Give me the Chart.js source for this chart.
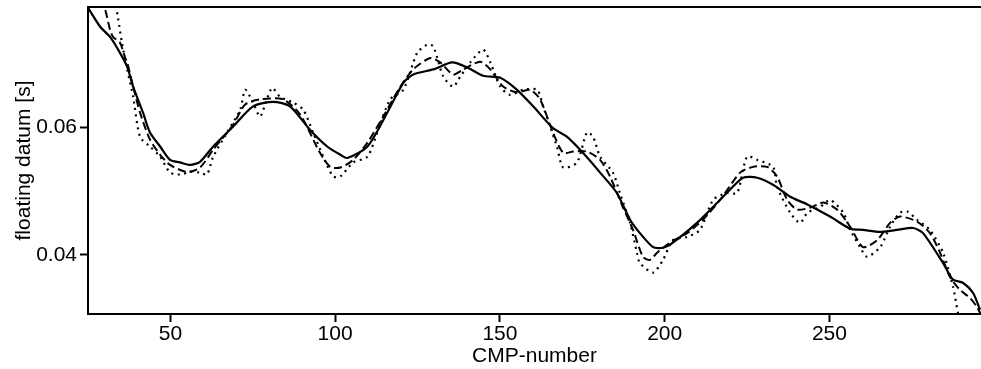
<!DOCTYPE html>
<html>
<head>
<meta charset="utf-8">
<script src="https://cdn.jsdelivr.net/npm/chart.js@4.4.0/dist/chart.umd.min.js"></script>
<style>
    html, body { margin: 0; padding: 0; background: #fff; overflow: hidden; }
    #wrap { width: 981px; height: 369px; }
</style>
</head>
<body>
<div id="wrap"><canvas id="chart1"></canvas></div>
<script>
// AXIS TICKS
var xTicks = [50, 100, 150, 200, 250];
var yTicks = [0.04, 0.06];

// SOLID CURVE
var solidX = [25.0, 28.7, 31.7, 34.7, 36.9, 38.7, 41.7, 43.8, 46.9, 49.9, 52.9, 56.0, 59.0, 63.0, 69.0, 75.1, 81.2, 86.3, 92.4, 97.6,
    101.6, 103.7, 109.8, 115.8, 120.7, 123.7, 129.8, 135.5, 140.1, 144.9, 150.1, 155.2, 160.1, 166.1, 170.4, 175.2, 180.4, 185.5, 189.5, 192.5,
    196.5, 199.5, 202.5, 209.8, 214.7, 219.8, 223.8, 228.1, 232.9, 238.1, 243.3, 250.2, 256.3, 260.2, 265.4, 270.5, 275.4, 278.4, 284.5, 287.5,
    290.5, 293.6, 295.7];
var solidY = [0.0788, 0.0758, 0.0742, 0.0717, 0.0695, 0.0664, 0.0623, 0.0592, 0.0570, 0.0549, 0.0545, 0.0541, 0.0546, 0.0570, 0.0601, 0.0633, 0.0640, 0.0633, 0.0596, 0.0570,
    0.0557, 0.0552, 0.0570, 0.0623, 0.0670, 0.0683, 0.0691, 0.0702, 0.0694, 0.0681, 0.0678, 0.0659, 0.0633, 0.0599, 0.0585, 0.0560, 0.0529, 0.0497, 0.0455, 0.0434,
    0.0412, 0.0411, 0.0419, 0.0450, 0.0475, 0.0502, 0.0521, 0.0521, 0.0510, 0.0491, 0.0479, 0.0460, 0.0441, 0.0439, 0.0436, 0.0439, 0.0442, 0.0434, 0.0387, 0.0361,
    0.0356, 0.0340, 0.0314];

// DASHED CURVE
var dashedX = [28.7, 30.2, 31.7, 32.6, 34.7, 36.3, 36.9, 38.7, 40.8, 43.8, 46.9, 49.9, 55.1, 59.0, 63.0, 69.0, 72.7, 77.2, 84.2, 89.4,
    95.4, 98.5, 101.6, 105.5, 109.8, 114.6, 119.8, 123.7, 128.9, 131.9, 135.8, 138.9, 144.0, 147.1, 151.0, 155.2, 159.2, 162.2, 166.1, 169.2,
    172.2, 176.4, 180.4, 183.4, 187.3, 190.4, 193.4, 195.5, 197.7, 201.6, 206.8, 211.6, 216.8, 222.9, 226.8, 231.1, 234.1, 237.2, 240.2, 244.2,
    248.2, 252.3, 256.3, 260.2, 264.5, 268.4, 271.4, 276.6, 280.5, 283.6, 286.6, 289.6, 292.7, 294.8, 296.0];
var dashedY = [0.0801, 0.0785, 0.0753, 0.0742, 0.0733, 0.0709, 0.0702, 0.0664, 0.0623, 0.0581, 0.0557, 0.0541, 0.0530, 0.0537, 0.0565, 0.0604, 0.0636, 0.0644, 0.0644, 0.0620,
    0.0560, 0.0538, 0.0537, 0.0549, 0.0576, 0.0617, 0.0664, 0.0691, 0.0709, 0.0702, 0.0683, 0.0691, 0.0703, 0.0691, 0.0664, 0.0655, 0.0659, 0.0644, 0.0592, 0.0560,
    0.0562, 0.0562, 0.0549, 0.0523, 0.0475, 0.0439, 0.0397, 0.0392, 0.0403, 0.0419, 0.0434, 0.0455, 0.0486, 0.0529, 0.0538, 0.0538, 0.0523, 0.0486, 0.0471, 0.0474,
    0.0482, 0.0471, 0.0444, 0.0412, 0.0423, 0.0450, 0.0460, 0.0452, 0.0434, 0.0403, 0.0365, 0.0345, 0.0332, 0.0318, 0.0306];

// DOTTED CURVE
var dottedX = [33.2, 34.1, 35.3, 36.9, 38.7, 40.8, 43.8, 46.9, 49.9, 52.9, 56.0, 59.0, 61.1, 63.0, 67.2, 71.2, 72.7, 75.1, 77.2, 79.3,
    80.9, 83.3, 87.2, 90.3, 93.3, 96.4, 99.4, 101.6, 105.5, 109.8, 112.8, 116.7, 120.7, 124.9, 128.0, 129.8, 132.8, 135.8, 138.0, 141.0,
    144.9, 147.1, 150.1, 153.1, 157.0, 161.3, 163.1, 167.3, 169.2, 173.4, 176.4, 178.3, 180.4, 184.3, 186.4, 189.5, 191.6, 192.5, 196.5, 199.5,
    202.5, 206.8, 210.7, 214.7, 218.9, 222.0, 225.0, 228.1, 232.9, 234.1, 238.1, 241.1, 243.3, 247.2, 250.2, 254.2, 256.3, 259.3, 261.4, 265.4,
    268.4, 271.4, 273.6, 276.6, 280.5, 284.5, 287.5, 289.0, 290.3];
var dottedY = [0.0801, 0.0772, 0.0733, 0.0691, 0.0648, 0.0585, 0.0570, 0.0554, 0.0529, 0.0526, 0.0530, 0.0529, 0.0526, 0.0554, 0.0592, 0.0628, 0.0659, 0.0639, 0.0617, 0.0644,
    0.0662, 0.0648, 0.0639, 0.0628, 0.0592, 0.0554, 0.0523, 0.0523, 0.0545, 0.0554, 0.0592, 0.0644, 0.0659, 0.0717, 0.0730, 0.0727, 0.0680, 0.0664, 0.0680, 0.0702,
    0.0722, 0.0702, 0.0664, 0.0651, 0.0659, 0.0659, 0.0633, 0.0570, 0.0537, 0.0545, 0.0592, 0.0585, 0.0554, 0.0529, 0.0497, 0.0450, 0.0403, 0.0387, 0.0372, 0.0392,
    0.0423, 0.0428, 0.0439, 0.0486, 0.0497, 0.0497, 0.0554, 0.0549, 0.0538, 0.0507, 0.0466, 0.0450, 0.0466, 0.0475, 0.0486, 0.0466, 0.0439, 0.0412, 0.0397, 0.0412,
    0.0444, 0.0466, 0.0468, 0.0455, 0.0439, 0.0403, 0.0350, 0.0309, 0.0282];

function toPoints(xs, ys) {
    return xs.map(function (x, i) { return { x: x, y: ys[i] }; });
}

var FONT = { family: "'Liberation Sans', Arial, sans-serif", size: 21 };

// top frame line (the reference box has no right side in view)
var topLine = {
    id: 'topLine',
    afterDraw: function (chart) {
        var a = chart.chartArea, c = chart.ctx;
        c.save();
        c.strokeStyle = '#000';
        c.lineWidth = 2;
        c.beginPath();
        c.moveTo(a.left - 1, a.top);
        c.lineTo(chart.width, a.top);
        c.stroke();
        c.restore();
    }
};

var ctxChart1 = document.getElementById('chart1').getContext('2d');
var chart1 = new Chart(ctxChart1, {
    type: 'scatter',
    plugins: [topLine],
    data: {
        datasets: [{
            data: toPoints(dottedX, dottedY),
            showLine: true,
            borderColor: '#000',
            borderWidth: 2.2,
            borderDash: [2, 4.5],
            pointRadius: 0,
            tension: 0.25
        }, {
            data: toPoints(dashedX, dashedY),
            showLine: true,
            borderColor: '#000',
            borderWidth: 2,
            borderDash: [8, 4],
            pointRadius: 0,
            tension: 0.25
        }, {
            data: toPoints(solidX, solidY),
            showLine: true,
            borderColor: '#000',
            borderWidth: 2.2,
            pointRadius: 0,
            tension: 0.25
        }]
    }, options: {
        responsive: true,
        maintainAspectRatio: false,
        animation: false,
        devicePixelRatio: 1,
        layout: { padding: { top: 7, right: 0, bottom: 0, left: 0 } },
        plugins: {
            legend: { display: false },
            title: { display: false },
            tooltip: { enabled: false }
        }, scales: {
            x: {
                type: 'linear',
                min: 25,
                max: 296,
                afterFit: function (s) { s.height = 55; s.paddingLeft = 0; s.paddingRight = 0; },
                afterBuildTicks: function (s) { s.ticks = xTicks.map(function (v) { return { value: v }; }); },
                grid: { drawOnChartArea: false, drawTicks: true, tickLength: 8, tickWidth: 2, tickColor: '#000' },
                border: { display: true, color: '#000', width: 2 },
                ticks: { color: '#000', font: FONT, padding: 0, maxRotation: 0, callback: function (v) { return v; } },
                title: { display: true, text: 'CMP-number', color: '#000', font: FONT, padding: { top: 0, bottom: 0 } }
            },
            y: {
                min: 0.0307,
                max: 0.0789,
                afterFit: function (s) { s.width = 88; s.paddingTop = 0; s.paddingBottom = 0; },
                afterBuildTicks: function (s) { s.ticks = yTicks.map(function (v) { return { value: v }; }); },
                grid: { drawOnChartArea: false, drawTicks: true, tickLength: 8, tickWidth: 2, tickColor: '#000' },
                border: { display: true, color: '#000', width: 2 },
                ticks: { color: '#000', font: FONT, padding: 3, callback: function (v) { return v.toFixed(2); } },
                title: { display: true, text: 'floating datum [s]', color: '#000', font: FONT, padding: { top: 12, bottom: 0 } }
            }
        }
    },
});
</script>
</body>
</html>
